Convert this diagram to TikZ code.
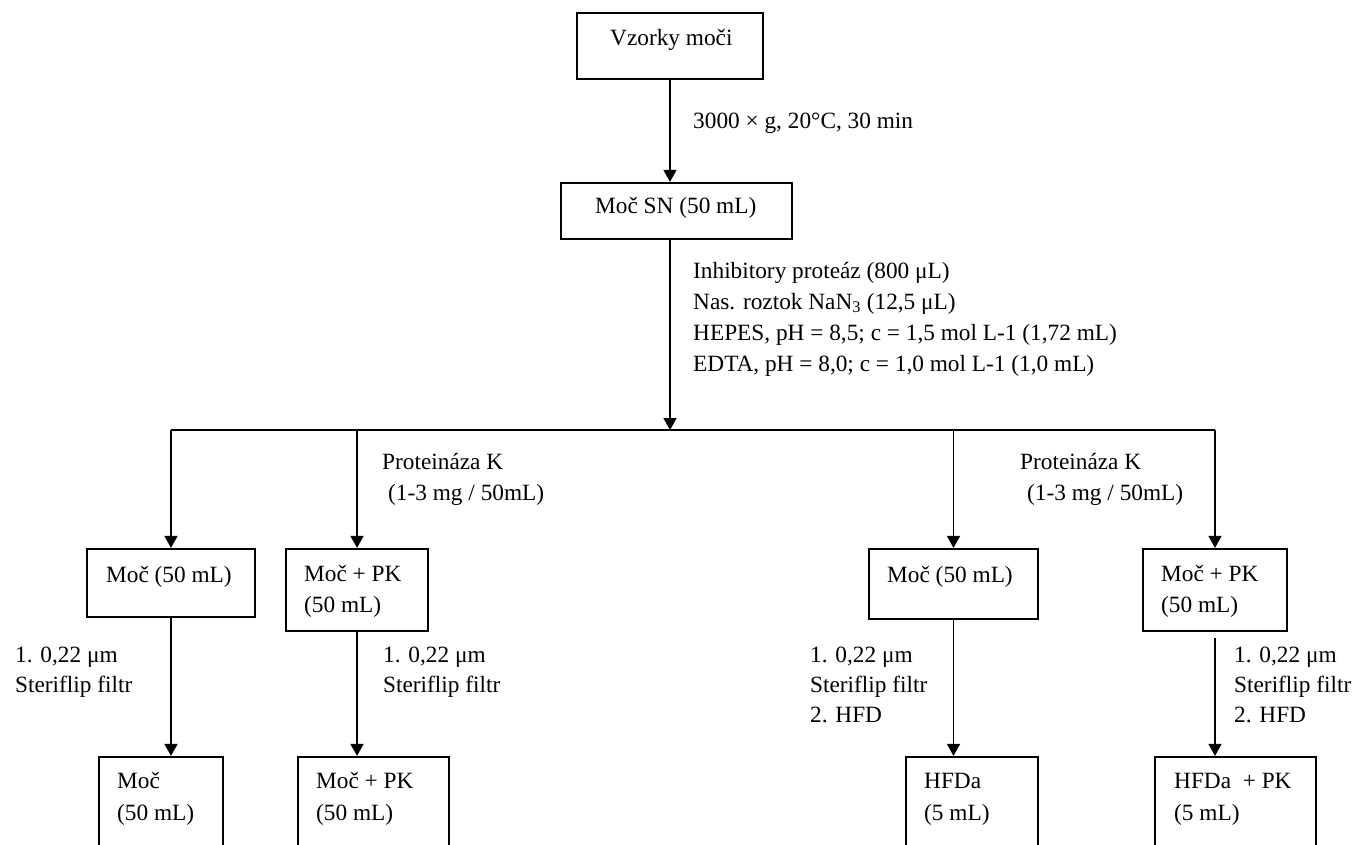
\documentclass[tikz,border=0pt]{standalone}
\usepackage{fontspec}
\setmainfont{Liberation Serif}
\usetikzlibrary{arrows.meta}
\begin{document}
\begin{tikzpicture}[x=1pt,y=-1pt,
  box/.style={draw, line width=2.2pt, inner sep=0pt, rectangle},
  conn/.style={line width=1.5pt},
  arr/.style={conn, -{Triangle[length=12pt,width=13pt]}},
  lbl/.style={anchor=base west, inner sep=0pt, font=\fontsize{23.3}{31}\selectfont}]
\clip (0,0) rectangle (1352,844);
% boxes
\node[box, minimum width=186pt, minimum height=66pt] (vz) at (670,46) {};
\node[box, minimum width=231pt, minimum height=56pt] (sn) at (676.5,211) {};
\node[box, minimum width=168pt, minimum height=68pt] (m1) at (171,583) {};
\node[box, minimum width=142pt, minimum height=82pt] (m2) at (357,590) {};
\node[box, minimum width=169pt, minimum height=70pt] (m3) at (953.5,584) {};
\node[box, minimum width=144pt, minimum height=82pt] (m4) at (1215,590) {};
\node[box, minimum width=124pt, minimum height=103pt] (f1) at (161,808.5) {};
\node[box, minimum width=151pt, minimum height=103pt] (f2) at (373.5,808.5) {};
\node[box, minimum width=132pt, minimum height=103pt] (f3) at (972,808.5) {};
\node[box, minimum width=161pt, minimum height=103pt] (f4) at (1235.5,808.5) {};
% box texts
\node[lbl] (tvz) at (610,45) {Vzorky moči};
\node[lbl] (tsn) at (595,213) {Moč SN (50 mL)};
\node[lbl] (tm1) at (106,582) {Moč (50 mL)};
\node[lbl] (tm2a) at (304,581) {Moč + PK};
\node[lbl] (tm2b) at (304,612) {(50 mL)};
\node[lbl] (tm3) at (887,582) {Moč (50 mL)};
\node[lbl] (tm4a) at (1161,581) {Moč + PK};
\node[lbl] (tm4b) at (1161,612) {(50 mL)};
\node[lbl] (tf1a) at (117,788) {Moč};
\node[lbl] (tf1b) at (117,820) {(50 mL)};
\node[lbl] (tf2a) at (316,788) {Moč + PK};
\node[lbl] (tf2b) at (316,820) {(50 mL)};
\node[lbl] (tf3a) at (924,788) {HFDa};
\node[lbl] (tf3b) at (924,820) {(5 mL)};
\node[lbl] (tf4a) at (1174,788) {HFDa~ + PK};
\node[lbl] (tf4b) at (1174,820) {(5 mL)};
% connectors
\coordinate (bus) at (0,430);
\draw[arr] (vz.south) -- (vz.south |- sn.north);
\draw[arr] (vz.south |- sn.south) -- (vz.south |- bus);
\draw[conn] (m1.north |- bus) -- (m4.north |- bus);
\draw[arr] (m1.north |- bus) -- (m1.north);
\draw[arr] (m2.north |- bus) -- (m2.north);
\draw[arr] (m3.north |- bus) -- (m3.north);
\draw[arr] (m4.north |- bus) -- (m4.north);
\draw[arr] (m1.south) -- (m1.south |- f1.north);
\draw[arr] (m2.south) -- (m2.south |- f2.north);
\draw[arr] (m3.south) -- (m3.south |- f3.north);
\draw[arr, shorten <=6pt] (m4.south) -- (m4.south |- f4.north);
% connector labels
\node[lbl] (c1) at (693,128) {3000 × g, 20°C, 30 min};
\node[lbl] (c2a) at (693,278) {Inhibitory proteáz (800 μL)};
\node[lbl] (c2b) at (693,309) {Nas. roztok NaN\textsubscript{3} (12,5 μL)};
\node[lbl] (c2c) at (693,340) {HEPES, pH = 8,5; c = 1,5 mol L-1 (1,72 mL)};
\node[lbl] (c2d) at (693,371) {EDTA, pH = 8,0; c = 1,0 mol L-1 (1,0 mL)};
\node[lbl] (p1a) at (382,469) {Proteináza K};
\node[lbl] (p1b) at (388,500) {(1-3 mg / 50mL)};
\node[lbl] (p2a) at (1020,469) {Proteináza K};
\node[lbl] (p2b) at (1027,500) {(1-3 mg / 50mL)};
\node[lbl] (s1a) at (15,662) {1. 0,22 μm};
\node[lbl] (s1b) at (15,692) {Steriflip filtr};
\node[lbl] (s2a) at (383,662) {1. 0,22 μm};
\node[lbl] (s2b) at (383,692) {Steriflip filtr};
\node[lbl] (s3a) at (810,662) {1. 0,22 μm};
\node[lbl] (s3b) at (810,692) {Steriflip filtr};
\node[lbl] (s3c) at (810,722) {2. HFD};
\node[lbl] (s4a) at (1234,662) {1. 0,22 μm};
\node[lbl] (s4b) at (1234,692) {Steriflip filtr};
\node[lbl] (s4c) at (1234,722) {2. HFD};
\end{tikzpicture}
\end{document}
